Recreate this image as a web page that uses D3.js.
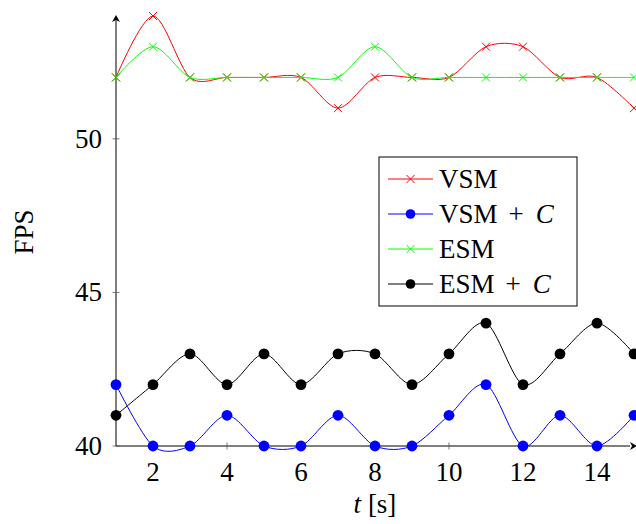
<html>
<head>
<style>
  body { margin: 0; background: #fff; }
  svg { font-family: "Liberation Serif", "DejaVu Serif", serif; }
</style>
</head>
<body>
<div id="chart"></div>
<script src="https://cdn.jsdelivr.net/npm/d3@7"></script>
<script>
var width = 636, height = 524;

// data
var t = [1, 2, 3, 4, 5, 6, 7, 8, 9, 10, 11, 12, 13, 14, 15];
var vsm  = [52, 54, 52, 52, 52, 52, 51, 52, 52, 52, 53, 53, 52, 52, 51];
var vsmC = [42, 40, 40, 41, 40, 40, 41, 40, 40, 41, 42, 40, 41, 40, 41];
var esm  = [52, 53, 52, 52, 52, 52, 52, 53, 52, 52, 52, 52, 52, 52, 52];
var esmC = [41, 42, 43, 42, 43, 42, 43, 43, 42, 43, 44, 42, 43, 44, 43];
var xTicks = [2, 4, 6, 8, 10, 12, 14];
var yTicks = [40, 45, 50];

var series = [
  {name: "VSM", values: vsm, color: "#ff0000", mark: "x"},
  {name: "VSM", c: true, values: vsmC, color: "#0000ff", mark: "o"},
  {name: "ESM", values: esm, color: "#00ff00", mark: "x"},
  {name: "ESM", c: true, values: esmC, color: "#000000", mark: "o"}
];

var svg = d3.select("#chart").append("svg")
  .attr("width", width).attr("height", height);

var x = d3.scaleLinear().domain([1, 15]).range([116, 634]);
var y = d3.scaleLinear().domain([40, 54]).range([446, 16]);

var line = d3.line()
  .x(function(d, i) { return x(t[i]); })
  .y(function(d) { return y(d); })
  .curve(d3.curveCardinal.tension(0.1));

var fs = 27;

// axes
var axisCol = "#000";
svg.append("line").attr("x1", x(1)).attr("x2", 630).attr("y1", y(40)).attr("y2", y(40))
  .attr("stroke", axisCol).attr("stroke-width", 1);
svg.append("path").attr("d", "M630,442 L637,446 L630,450 L632,446 Z").attr("fill", axisCol);
svg.append("line").attr("x1", x(1)).attr("x2", x(1)).attr("y1", y(40)).attr("y2", 20)
  .attr("stroke", axisCol).attr("stroke-width", 1);
svg.append("path").attr("d", "M112,22 L116,15 L120,22 L116,20 Z").attr("fill", axisCol);

svg.append("g").selectAll("line").data(xTicks).join("line")
  .attr("x1", function(d) { return x(d); }).attr("x2", function(d) { return x(d); })
  .attr("y1", y(40) - 3.5).attr("y2", y(40) + 3.5)
  .attr("stroke", "#555").attr("stroke-width", 0.8);
svg.append("g").selectAll("line").data(yTicks).join("line")
  .attr("x1", x(1) - 3.5).attr("x2", x(1) + 3.5)
  .attr("y1", function(d) { return y(d); }).attr("y2", function(d) { return y(d); })
  .attr("stroke", "#555").attr("stroke-width", 0.8);

svg.append("g").selectAll("text").data(xTicks).join("text")
  .attr("x", function(d) { return x(d); }).attr("y", 481)
  .attr("text-anchor", "middle").attr("font-size", fs).text(function(d) { return d; });
svg.append("g").selectAll("text").data(yTicks).join("text")
  .attr("x", 102).attr("y", function(d) { return y(d) + 9; })
  .attr("text-anchor", "end").attr("font-size", fs).text(function(d) { return d; });

svg.append("text").attr("transform", "translate(33,232) rotate(-90)")
  .attr("text-anchor", "middle").attr("font-size", fs).text("FPS");
var xl = svg.append("text").attr("x", 375).attr("y", 513)
  .attr("text-anchor", "middle").attr("font-size", fs);
xl.append("tspan").attr("font-style", "italic").text("t");
xl.append("tspan").text(" [s]");

function drawMark(g, mark, color, cx, cy, r) {
  if (mark === "x") {
    var s = 4;
    g.append("path").attr("d", "M" + (cx - s) + "," + (cy - s) + "L" + (cx + s) + "," + (cy + s) +
        "M" + (cx - s) + "," + (cy + s) + "L" + (cx + s) + "," + (cy - s))
      .attr("stroke", color).attr("stroke-width", 1).attr("fill", "none");
  } else {
    g.append("circle").attr("cx", cx).attr("cy", cy).attr("r", r || 5.4).attr("fill", color);
  }
}

var plot = svg.append("g");
series.forEach(function(s) {
  plot.append("path").datum(s.values).attr("d", line)
    .attr("fill", "none").attr("stroke", s.color).attr("stroke-width", 1);
  s.values.forEach(function(v, i) { drawMark(plot, s.mark, s.color, x(t[i]), y(v)); });
});

// legend
var lg = svg.append("g");
lg.append("rect").attr("x", 379).attr("y", 157).attr("width", 198).attr("height", 149)
  .attr("fill", "#fff").attr("stroke", "#000").attr("stroke-width", 1);
series.forEach(function(s, i) {
  var ly = 179 + i * 35;
  lg.append("line").attr("x1", 388).attr("x2", 433).attr("y1", ly).attr("y2", ly)
    .attr("stroke", s.color).attr("stroke-width", 1);
  drawMark(lg, s.mark, s.color, 410.5, ly, 4.8);
  var tx = lg.append("text").attr("x", 439).attr("y", ly + 9).attr("font-size", fs);
  tx.append("tspan").text(s.name);
  if (s.c) {
    tx.append("tspan").attr("dx", 11).text("+");
    tx.append("tspan").attr("dx", 12).attr("font-style", "italic").text("C");
  }
});
</script>
</body>
</html>
